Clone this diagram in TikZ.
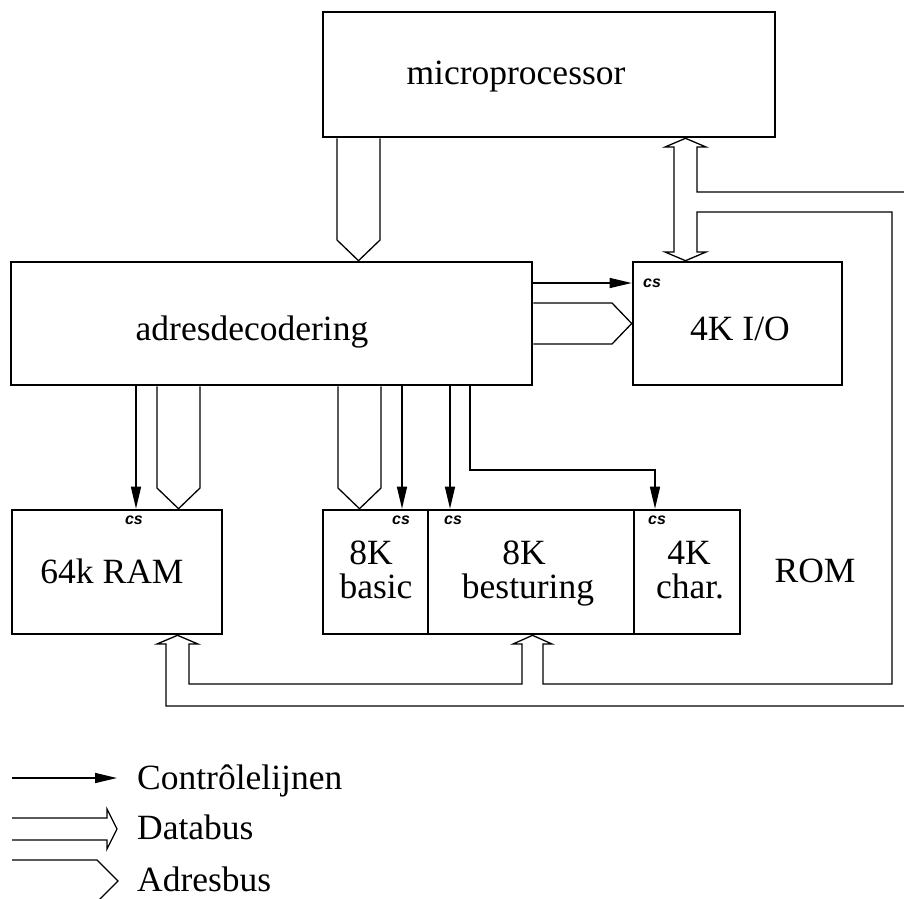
\documentclass[tikz,border=0pt]{standalone}
\usepackage{fontspec}
\setmainfont{Liberation Serif}
\setsansfont{Liberation Sans}
\usetikzlibrary{arrows.meta}

\begin{document}
\begin{tikzpicture}[x=1pt, y=-1pt,
				   blok/.style={draw, line width=2.6pt, inner sep=0pt},
				   tekst/.style={font=\fontsize{35.5}{36}\selectfont, inner sep=0pt, anchor=base},
				   csletter/.style={font={\sffamily\bfseries\itshape\fontsize{16}{16}\selectfont}, inner sep=0pt},
				   bus/.style={line width=1.3pt, line join=miter},
				   stuur/.style={line width=1.4pt, -{Triangle[length=22pt, width=10pt]}}]
\useasboundingbox (0,0) rectangle (904,898);

% blokken
\node[blok, minimum width=452pt, minimum height=125pt] (mp) at (549,74.5) {};
\node[blok, minimum width=521pt, minimum height=123pt] (dec) at (271.5,323.5) {};
\node[blok, minimum width=209pt, minimum height=123pt] (io) at (737.5,323.5) {};
\node[blok, minimum width=210pt, minimum height=124pt] (ram) at (117,572) {};
\node[blok, minimum width=417pt, minimum height=124pt] (rom) at (531.5,572) {};
\draw[line width=1.3pt] (rom.north -| 428,0) -- (rom.south -| 428,0);
\draw[line width=1.3pt] (rom.north -| 634,0) -- (rom.south -| 634,0);

\node[tekst] (mptekst) at (516,84) {microprocessor};
\node[tekst] (dectekst) at (252,340) {adresdecodering};
\node[tekst] (iotekst) at (740,340) {4K I/O};
\node[tekst] (ramtekst) at (112,583) {64k RAM};
\node[tekst] (basic1) at (371,564) {8K};
\node[tekst] (basic2) at (376,598) {basic};
\node[tekst] (best1) at (524,564) {8K};
\node[tekst] (best2) at (528,598) {besturing};
\node[tekst] (char1) at (689,564) {4K};
\node[tekst] (char2) at (690,598) {char.};
\node[tekst] (romtekst) at (815,582) {ROM};

\node[csletter] (csio) at (652,283) {cs};
\node[csletter] (csram) at (134,520) {cs};
\node[csletter] (csbasic) at (401,520) {cs};
\node[csletter] (csbest) at (453,520) {cs};
\node[csletter] (cschar) at (657,520) {cs};

% adresbussen
\draw[bus] (mp.south -| 337,0) -- (337,240) -- (dec.north -| 358.5,0) -- (380,240) -- (mp.south -| 380,0);
\draw[bus] (dec.east |- 0,303) -- (612,303) -- (io.west) -- (612,344) -- (dec.east |- 0,344);
\draw[bus] (dec.south -| 157,0) -- (157,488) -- (ram.north -| 178.5,0) -- (200,488) -- (dec.south -| 200,0);
\draw[bus] (dec.south -| 338,0) -- (338,488) -- (rom.north -| 359.5,0) -- (381,488) -- (dec.south -| 381,0);

% databus
\draw[bus] (674,147) -- (674,252) -- (665,252) -- (io.north -| 685.5,0) -- (706,252) -- (697,252)
	-- (697,212) -- (892,212) -- (892,684) -- (543,684) -- (543,644) -- (552,644)
	-- (rom.south -| 532.5,0) -- (513,644) -- (522,644) -- (522,684) -- (189,684)
	-- (189,644) -- (198,644) -- (ram.south -| 177.5,0) -- (157,644) -- (166,644)
	-- (166,706) -- (910,706) -- (910,192) -- (697,192) -- (697,147) -- (706,147)
	-- (mp.south -| 685.5,0) -- (665,147) -- cycle;

% controlelijnen
\draw[stuur] (dec.east |- 0,283) -- (io.west |- 0,283);
\draw[stuur] (dec.south -| 136,0) -- (ram.north -| 136,0);
\draw[stuur] (dec.south -| 402,0) -- (rom.north -| 402,0);
\draw[stuur] (dec.south -| 450,0) -- (rom.north -| 450,0);
\draw[stuur] (dec.south -| 470,0) -- (470,470) -- (655,470) -- (rom.north -| 655,0);

% legenda
\coordinate (lc1) at (12,778);
\coordinate (lc2) at (117,778);
\draw[stuur] (lc1) -- (lc2);
\node[tekst, anchor=base west] (ctrl) at (137,789) {Contrôlelijnen};
\draw[bus] (12,818) -- (107,818) -- (107,809) -- (117,829) -- (107,849) -- (107,840) -- (12,840);
\node[tekst, anchor=base west] (data) at (137,839) {Databus};
\draw[bus] (12,860) -- (97,860) -- (118,881) -- (97,902) -- (12,902);
\node[tekst, anchor=base west] (adres) at (137,891) {Adresbus};
\end{tikzpicture}
\end{document}
